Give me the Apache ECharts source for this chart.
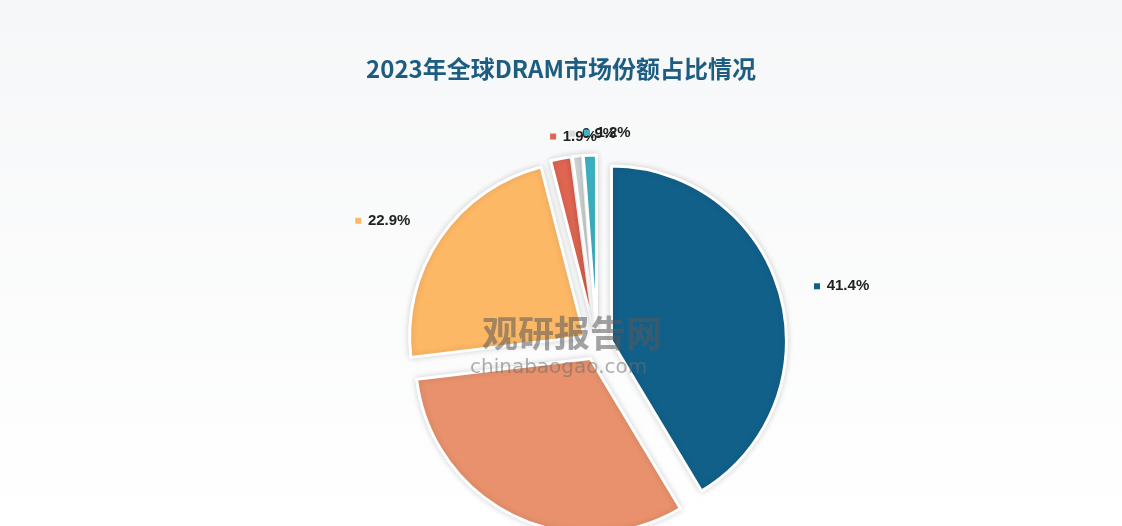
<!DOCTYPE html>
<html><head><meta charset="utf-8">
<script src="https://cdn.jsdelivr.net/npm/echarts@6/dist/echarts.min.js"></script>
<style>html,body{margin:0;background:#f2f3f4}#c{width:1122px;height:526px}</style>
</head><body><div id="c"></div>
<script>
const names = ['三星', 'SK海力士', '美光', '南亚科技', '华邦电子', '其他']
const shares = [41.4, 31.7, 22.9, 1.9, 0.9, 1.2]
const colors = ['#11608a', '#e8916c', '#fdb866', '#e06652', '#d5dcdc', '#3db4c4']
// fixed label spots for the crowded small slices
const smallLabelX = { 3: 455, 4: 535, 5: 617 }

const chart = echarts.init(document.getElementById('c'))

const data = names.map((n, i) => ({
  name: n,
  value: shares[i],
  selected: true,
  itemStyle: { color: colors[i] },
  label: {
    offset: i === 0 ? [10, 8] : i === 2 ? [-10, 3] : [0, 0],
    formatter: '{m|}  {v|' + shares[i].toFixed(1) + '%}',
    rich: {
      m: { width: 6, height: 6, backgroundColor: colors[i] },
      v: { fontSize: 15, fontWeight: 'bold', color: '#222', fontFamily: 'Liberation Sans' }
    }
  }
}))

chart.setOption({
  backgroundColor: {
    type: 'linear', x: 0, y: 0, x2: 0, y2: 1,
    colorStops: [{ offset: 0, color: '#f6f7f8' }, { offset: 1, color: '#ffffff' }]
  },
  title: {
    text: '2023年全球DRAM市场份额占比情况',
    left: 'center', top: 52,
    textStyle: { color: '#1d5d82', fontSize: 24, fontWeight: 'bold', fontFamily: 'Noto Sans CJK SC' }
  },
  graphic: [
    { type: 'text', left: 482, top: 315, z: 100,
      style: { text: '观研报告网', fill: 'rgba(90,90,90,0.55)', font: 'bold 36px "Noto Sans CJK SC"' } },
    { type: 'text', left: 470, top: 358, z: 100,
      style: { text: 'chinabaogao.com', fill: 'rgba(110,110,110,0.55)', font: '20px "DejaVu Sans"' } }
  ],
  series: [{
    type: 'pie',
    center: [597, 345],
    radius: 175,
    startAngle: 90,
    selectedMode: 'multiple',
    selectedOffset: 15,
    avoidLabelOverlap: false,
    itemStyle: { borderColor: '#fff', borderWidth: 3, shadowBlur: 6, shadowColor: 'rgba(0,0,0,0.15)' },
    label: { position: 'outside', distance: 10 },
    labelLine: { show: false, length: 30, length2: 0 },
    labelLayout: params => {
      const x = smallLabelX[params.dataIndex]
      if (x === undefined) return { hideOverlap: false }
      return { x, y: 120, align: 'left', verticalAlign: 'top', hideOverlap: false }
    },
    emphasis: { disabled: true },
    data
  }]
})
</script></body></html>
